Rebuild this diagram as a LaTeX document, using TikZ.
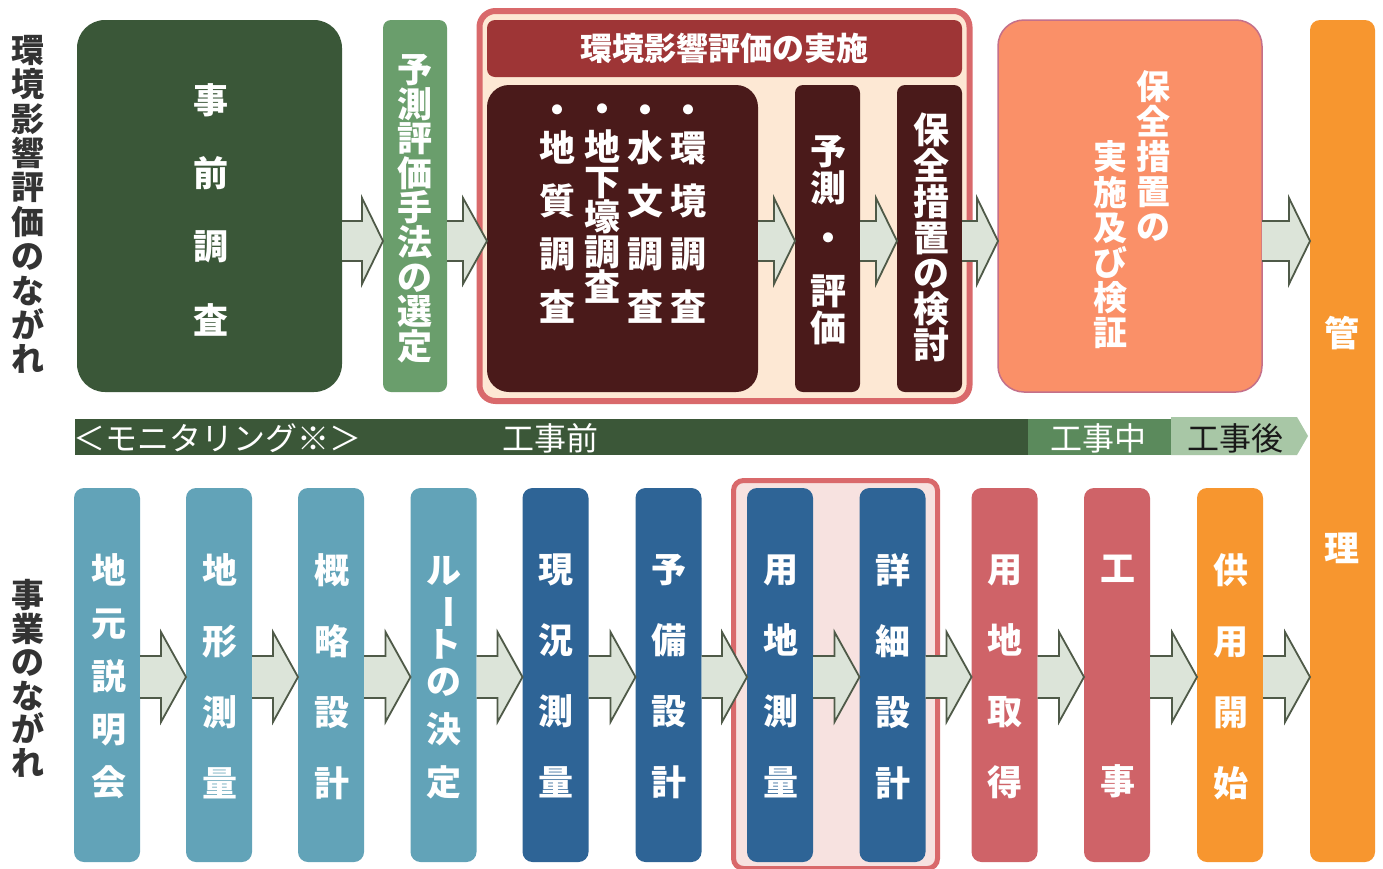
\documentclass[tikz,border=0pt]{standalone}
\usepackage{fontspec}
\setmainfont{Noto Sans CJK JP}
\usepackage{graphicx}
\usetikzlibrary{calc}
\definecolor{dkgreen}{HTML}{3A5738}
\definecolor{midgreen}{HTML}{6A9E6C}
\definecolor{frame}{HTML}{D9696B}
\definecolor{peach}{HTML}{FDE8D4}
\definecolor{hdrred}{HTML}{9E3536}
\definecolor{maroon}{HTML}{4A1A1A}
\definecolor{salmon}{HTML}{FA9068}
\definecolor{salmonedge}{HTML}{C4708A}
\definecolor{orng}{HTML}{F7962F}
\definecolor{ltblue}{HTML}{62A3B8}
\definecolor{dkblue}{HTML}{2E6496}
\definecolor{rd}{HTML}{CF6368}
\definecolor{pinkbg}{HTML}{F7E2E0}
\definecolor{mondark}{HTML}{3B5738}
\definecolor{monmid}{HTML}{5B8A5C}
\definecolor{monlight}{HTML}{A8C7A6}
\definecolor{labelgray}{HTML}{333333}
\definecolor{arrfill}{HTML}{DCE4D9}
\definecolor{arrline}{HTML}{4F5A48}
\newcommand\jfs[2]{\bfseries\fontsize{#1}{#2}\selectfont\lineskiplimit=-200pt\relax}
\newcommand\mfs{\fontsize{32}{34}\selectfont}
\newcommand\vbar{\rotatebox[origin=c]{-90}{ー}}
\newcommand\farrow[6]{%
  \coordinate (fa-s) at (#1.east |- #3);
  \coordinate (fa-e) at (#2.west |- #3);
  \fill[arrfill] ($(fa-s)+(0,#4)$) -- ($(fa-e)+(-#6,#4)$) -- ($(fa-e)+(-#6,#5)$) -- (fa-e)
     -- ($(fa-e)+(-#6,-#5)$) -- ($(fa-e)+(-#6,-#4)$) -- ($(fa-s)+(0,-#4)$) -- cycle;
  \draw[arrline,line width=1.8pt,line join=miter] ($(fa-s)+(0,#4)$) -- ($(fa-e)+(-#6,#4)$) -- ($(fa-e)+(-#6,#5)$) -- (fa-e)
     -- ($(fa-e)+(-#6,-#5)$) -- ($(fa-e)+(-#6,-#4)$) -- ($(fa-s)+(0,-#4)$);
}
\begin{document}
\begin{tikzpicture}[x=1pt,y=-1pt,
  box/.style={inner sep=0pt,outer sep=0pt,draw=none},
  vt/.style={align=center,inner sep=0pt,text=white,
    execute at begin node=\vphantom{国},execute at end node=\vphantom{国}},
  ht/.style={inner sep=0pt}]
\useasboundingbox[fill=white] (0,0) rectangle (1383,868);

% left labels
\node[vt,text=labelgray,font=\jfs{33}{34.4}] (lab1) at (28,205) {環\\境\\影\\響\\評\\価\\の\\な\\が\\れ};
\node[vt,text=labelgray,font=\jfs{33}{33.6}] (lab2) at (28,679) {事\\業\\の\\な\\が\\れ};

% top row
\node[box,fill=dkgreen,minimum width=265pt,minimum height=372pt,rounded corners=28pt] (jizen) at (209.5,206) {};
\node[vt,font=\jfs{35}{73.3}] (jizenT) at (211,210) {事\\前\\調\\査};

\node[box,fill=midgreen,minimum width=64pt,minimum height=372pt,rounded corners=8pt] (yosoku) at (415,206) {};
\node[vt,font=\jfs{35}{34.6}] (yosokuT) at (415,208.5) {予\\測\\評\\価\\手\\法\\の\\選\\定};

\node[box,draw=frame,line width=6pt,fill=peach,minimum width=490pt,minimum height=390pt,rounded corners=16pt] (impl) at (724.5,206) {};
\node[box,fill=hdrred,minimum width=475pt,minimum height=57pt,rounded corners=8pt] (hdr) at (724.5,48.5) {};
\node[ht,text=white,font=\jfs{32}{34}] (hdrT) at (724,48) {環境影響評価の実施};

\node[box,fill=maroon,minimum width=271pt,minimum height=307pt,rounded corners=22pt] (survey) at (622.5,238.5) {};
\node[vt,font=\jfs{36}{53}] (c1) at (557,214) {・\\[-15pt]地\\質\\調\\査};
\node[vt,font=\jfs{36}{35}] (c2) at (602,204) {・\\[3pt]地\\下\\壕\\調\\査};
\node[vt,font=\jfs{36}{53}] (c3) at (645,214) {・\\[-15pt]水\\文\\調\\査};
\node[vt,font=\jfs{36}{53}] (c4) at (688,214) {・\\[-15pt]環\\境\\調\\査};

\node[box,fill=maroon,minimum width=65pt,minimum height=307pt,rounded corners=8pt] (ysh) at (827.5,238.5) {};
\node[vt,font=\jfs{36}{37}] (yshT) at (828,240.5) {予\\測\\[13pt]・\\[16pt]評\\価};

\node[box,fill=maroon,minimum width=65pt,minimum height=307pt,rounded corners=8pt] (kentou) at (929.5,238.5) {};
\node[vt,font=\jfs{36}{35.8}] (kentouT) at (931,237.5) {保\\全\\措\\置\\の\\検\\討};

\node[box,draw=salmonedge,line width=1.5pt,fill=salmon,minimum width=264pt,minimum height=372pt,rounded corners=26pt] (kensho) at (1130,206) {};
\node[vt,font=\jfs{34}{35}] (kenshoR) at (1153,157) {保\\全\\措\\置\\の};
\node[vt,font=\jfs{34}{35.2}] (kenshoL) at (1110,245) {実\\施\\及\\び\\検\\証};

\node[box,fill=orng,minimum width=65pt,minimum height=842pt,rounded corners=10pt] (kanri) at (1342.5,441) {};
\node[vt,font=\jfs{35}{215}] (kanriT) at (1342,440.5) {管\\理};

% monitoring bar
\node[box,fill=mondark,minimum width=953pt,minimum height=36pt,anchor=north west] (mon) at (75,419) {};
\node[box,fill=monmid,minimum width=143pt,minimum height=36pt,anchor=north west] (mon2) at (1028,419) {};
\fill[monlight] (1171,417) -- (1297,417) -- (1308,436) -- (1297,455) -- (1171,455) -- cycle;
\node[ht,anchor=west,text=white,font=\mfs] (monT) at (73,438) {＜モニタリング※＞};
\node[ht,text=white,font=\mfs] (preT) at (550,438) {工事前};
\node[ht,text=white,font=\mfs] (durT) at (1098,438) {工事中};
\node[ht,text=black!90,font=\mfs] (postT) at (1235,438) {工事後};

% bottom frame
\node[box,draw=frame,line width=5pt,fill=pinkbg,minimum width=204pt,minimum height=388pt,rounded corners=10pt,anchor=north west] (frame2) at (733.5,480.5) {};

% bottom row
\foreach \n/\cx/\col in {b1/107/ltblue,b2/219/ltblue,b3/331/ltblue,b4/443.5/ltblue,b5/555.5/dkblue,b6/668.5/dkblue,b7/780/dkblue,b8/892.5/dkblue,b9/1004.5/rd,b10/1117/rd,b11/1230/orng}
  \node[box,fill=\col,minimum width=66pt,minimum height=374pt,rounded corners=10pt] (\n) at (\cx,675) {};

\node[vt,font=\jfs{35}{53}] (t1) at (109,676) {地\\元\\説\\明\\会};
\node[vt,font=\jfs{35}{71}] (t2) at (220,676.5) {地\\形\\測\\量};
\node[vt,font=\jfs{35}{71}] (t3) at (332,676.5) {概\\略\\設\\計};
\node[vt,font=\jfs{35}{37}] (t4) at (444,678) {ル\\\vbar\\ト\\の\\[11pt]決\\[16pt]定};
\node[vt,font=\jfs{35}{71}] (t5) at (556,676.5) {現\\況\\測\\量};
\node[vt,font=\jfs{35}{71}] (t6) at (669,676.5) {予\\備\\設\\計};
\node[vt,font=\jfs{35}{71}] (t7) at (781,676.5) {用\\地\\測\\量};
\node[vt,font=\jfs{35}{71}] (t8) at (893,676.5) {詳\\細\\設\\計};
\node[vt,font=\jfs{35}{71}] (t9) at (1005,676.5) {用\\地\\取\\得};
\node[vt,font=\jfs{35}{213}] (t10) at (1118,676.5) {工\\事};
\node[vt,font=\jfs{35}{71}] (t11) at (1231,676.5) {供\\用\\開\\始};

% arrows
\coordinate (ytop) at (0,241);
\coordinate (ybot) at (0,677);
\farrow{jizen}{yosoku}{ytop}{20}{43}{21}
\farrow{yosoku}{survey}{ytop}{20}{43}{24}
\farrow{survey}{ysh}{ytop}{20}{43}{21}
\farrow{ysh}{kentou}{ytop}{20}{43}{21}
\farrow{kentou}{kensho}{ytop}{20}{43}{21}
\farrow{kensho}{kanri}{ytop}{20}{43}{21}
\farrow{b1}{b2}{ybot}{21}{45}{25}
\farrow{b2}{b3}{ybot}{21}{45}{25}
\farrow{b3}{b4}{ybot}{21}{45}{25}
\farrow{b4}{b5}{ybot}{21}{45}{25}
\farrow{b5}{b6}{ybot}{21}{45}{25}
\farrow{b6}{b7}{ybot}{21}{45}{25}
\farrow{b7}{b8}{ybot}{21}{45}{25}
\farrow{b8}{b9}{ybot}{21}{45}{25}
\farrow{b9}{b10}{ybot}{21}{45}{25}
\farrow{b10}{b11}{ybot}{21}{45}{25}
\farrow{b11}{kanri}{ybot}{21}{45}{25}
\end{tikzpicture}
\end{document}
